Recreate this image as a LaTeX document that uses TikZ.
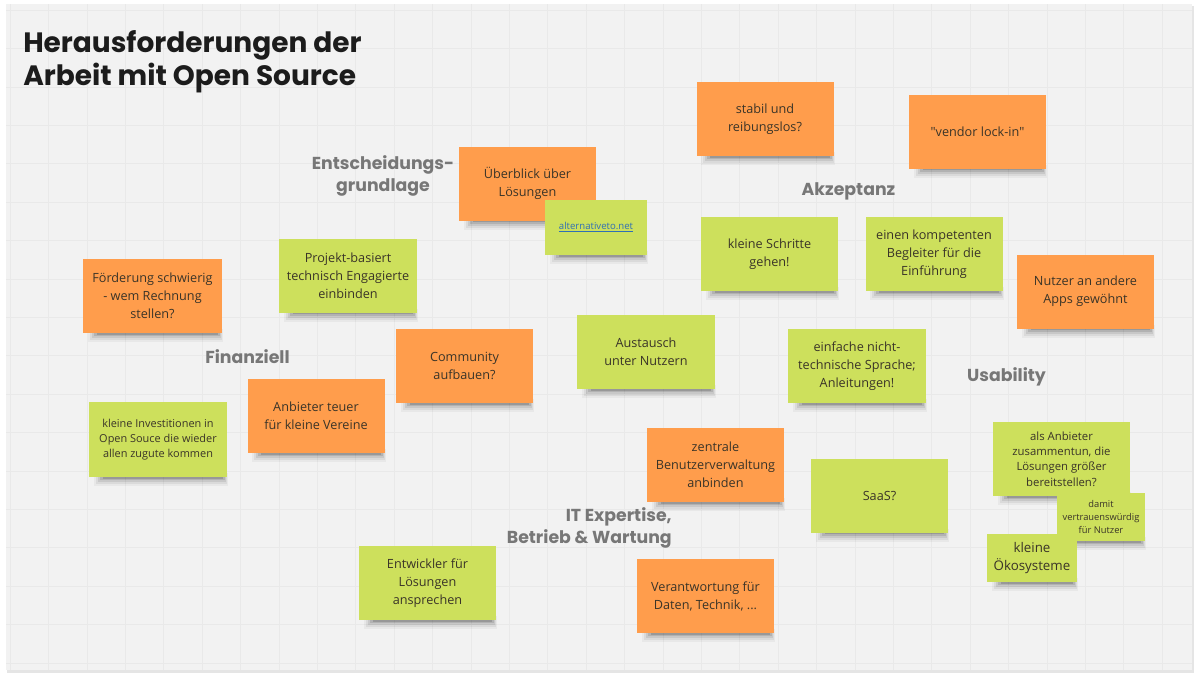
\documentclass[tikz,border=0pt]{standalone}
\usepackage{fontspec}
\setmainfont{Open Sans}[Ligatures=TeXOff]
\newfontfamily\headfont{Poppins}
\usetikzlibrary{calc}
\pgfdeclarelayer{boardlayer}
\pgfdeclarelayer{shadowlayer}
\pgfsetlayers{boardlayer,shadowlayer,main}
\definecolor{board}{HTML}{F2F2F2}
\definecolor{gridc}{HTML}{E9E9E9}
\definecolor{orangenote}{HTML}{FF9D4C}
\definecolor{greennote}{HTML}{CDE05C}
\definecolor{notetext}{HTML}{3A3428}
\definecolor{labelgray}{HTML}{777777}
\definecolor{titlec}{HTML}{1C1C1C}
\definecolor{linkblue}{HTML}{2F6FB5}
\newcommand\nshadow[1]{%
  \fill[black,opacity=.04] ($(#1.south west)+(5,-4)$) rectangle ($(#1.south east)+(1,9)$);
  \fill[black,opacity=.06] ($(#1.south west)+(7,-4)$) rectangle ($(#1.south east)+(0,7)$);
  \fill[black,opacity=.08] ($(#1.south west)+(9,-4)$) rectangle ($(#1.south east)+(-1,5)$);
  \fill[black,opacity=.11] ($(#1.south west)+(11,-4)$) rectangle ($(#1.south east)+(-2,3)$);
  \fill[black,opacity=.14] ($(#1.south west)+(14,-4)$) rectangle ($(#1.south east)+(-4,1.5)$);}
\begin{document}
\begin{tikzpicture}[x=0.75pt,y=-0.75pt,
  note/.style={inner sep=0pt, align=center, text=notetext,
    font=\fontsize{9.5}{13.5}\selectfont,
    minimum width=102.75pt, minimum height=55.5pt},
  onote/.style={note, fill=orangenote},
  gnote/.style={note, fill=greennote},
  cat/.style={font=\headfont\bfseries\fontsize{13}{17}\selectfont, text=labelgray, align=center, inner sep=0pt},
]
\useasboundingbox (0,0) rectangle (1200,676);
\begin{pgfonlayer}{boardlayer}
\fill[white] (0,0) rectangle (1200,676);
\fill[black!10] (7,6) rectangle (1194,673);
\fill[board] (6,4) rectangle (1192,670);
\foreach \x in {10,48.4,...,1190} \draw[gridc, line width=0.4pt] (\x,4) -- (\x,670);
\foreach \y in {10,48.4,...,668} \draw[gridc, line width=0.4pt] (6,\y) -- (1192,\y);
\end{pgfonlayer}

% title
\node[anchor=north west, inner sep=0pt, align=left, text=titlec,
  font=\headfont\bfseries\fontsize{21}{24.75}\selectfont] (title) at (23,30)
  {Herausforderungen der\\Arbeit mit Open Source};

% category labels
\node[cat] (entscheidung) at (383,176) {Entscheidungs-\\grundlage};
\node[cat] (akzeptanz) at (848.5,191) {Akzeptanz};
\node[cat] (finanziell) at (247.5,357) {Finanziell};
\node[cat] (usability) at (1006.5,377) {Usability};
\node[cat, align=right, anchor=east] (it) at (672,528) {IT Expertise,\\Betrieb \& Wartung};

% notes
\node[onote] (stabil) at (765,119) {stabil und\\reibungslos?};
\node[onote] (vendor) at (977.5,131.5) {"vendor lock-in"};
\node[onote] (ueberblick) at (527.5,183.5) {Überblick über\\Lösungen};
\node[gnote, minimum width=76.5pt, minimum height=41.25pt, font=\fontsize{7.2}{9}\selectfont, text=linkblue] (alt) at (596,227.5) {\underline{alternativeto.net}};
\node[gnote] (schritte) at (769.5,254) {kleine Schritte\\gehen!};
\node[gnote] (begleiter) at (934,254) {einen kompetenten\\Begleiter für die\\Einführung};
\node[onote] (apps) at (1085.5,291.5) {Nutzer an andere\\Apps gewöhnt};
\node[onote, minimum width=104.25pt] (foerderung) at (152.5,296) {Förderung schwierig\\- wem Rechnung\\stellen?};
\node[gnote, minimum width=103.5pt] (projekt) at (348,275.5) {Projekt-basiert\\technisch Engagierte\\einbinden};
\node[onote] (community) at (464.5,366) {Community\\aufbauen?};
\node[gnote, minimum width=103.5pt] (austausch) at (646,352) {Austausch\\unter Nutzern};
\node[gnote, minimum width=103.5pt] (sprache) at (857,366) {einfache nicht-\\technische Sprache;\\Anleitungen!};
\node[gnote, minimum width=103.5pt, minimum height=56.25pt, font=\fontsize{8.2}{11.3}\selectfont] (invest) at (158,439.5) {kleine Investitionen in\\Open Souce die wieder\\allen zugute kommen};
\node[onote] (teuer) at (316,416) {Anbieter teuer\\für kleine Vereine};
\node[onote] (zentrale) at (715.5,465) {zentrale\\Benutzerverwaltung\\anbinden};
\node[gnote] (saas) at (879.5,495.5) {SaaS?};
\node[gnote, font=\fontsize{8.5}{11.6}\selectfont] (anbieter) at (1061.5,459) {als Anbieter\\zusammentun, die\\Lösungen größer\\bereitstellen?};
\node[gnote, minimum width=66pt, minimum height=36pt, font=\fontsize{7}{9.4}\selectfont] (damit) at (1101,517) {damit\\vertrauenswürdig\\für Nutzer};
\node[gnote, minimum width=67.5pt, minimum height=36pt, font=\fontsize{10}{13.5}\selectfont] (oeko) at (1032,558) {kleine\\Ökosysteme};
\node[gnote] (entwickler) at (427.5,583) {Entwickler für\\Lösungen\\ansprechen};
\node[onote] (verantwortung) at (705.5,596) {Verantwortung für\\Daten, Technik, ...};

\begin{pgfonlayer}{shadowlayer}
\foreach \n in {stabil,vendor,ueberblick,alt,schritte,begleiter,apps,foerderung,projekt,community,austausch,sprache,invest,teuer,zentrale,saas,anbieter,damit,oeko,entwickler,verantwortung}
  {\nshadow{\n}}
\end{pgfonlayer}
\end{tikzpicture}
\end{document}
